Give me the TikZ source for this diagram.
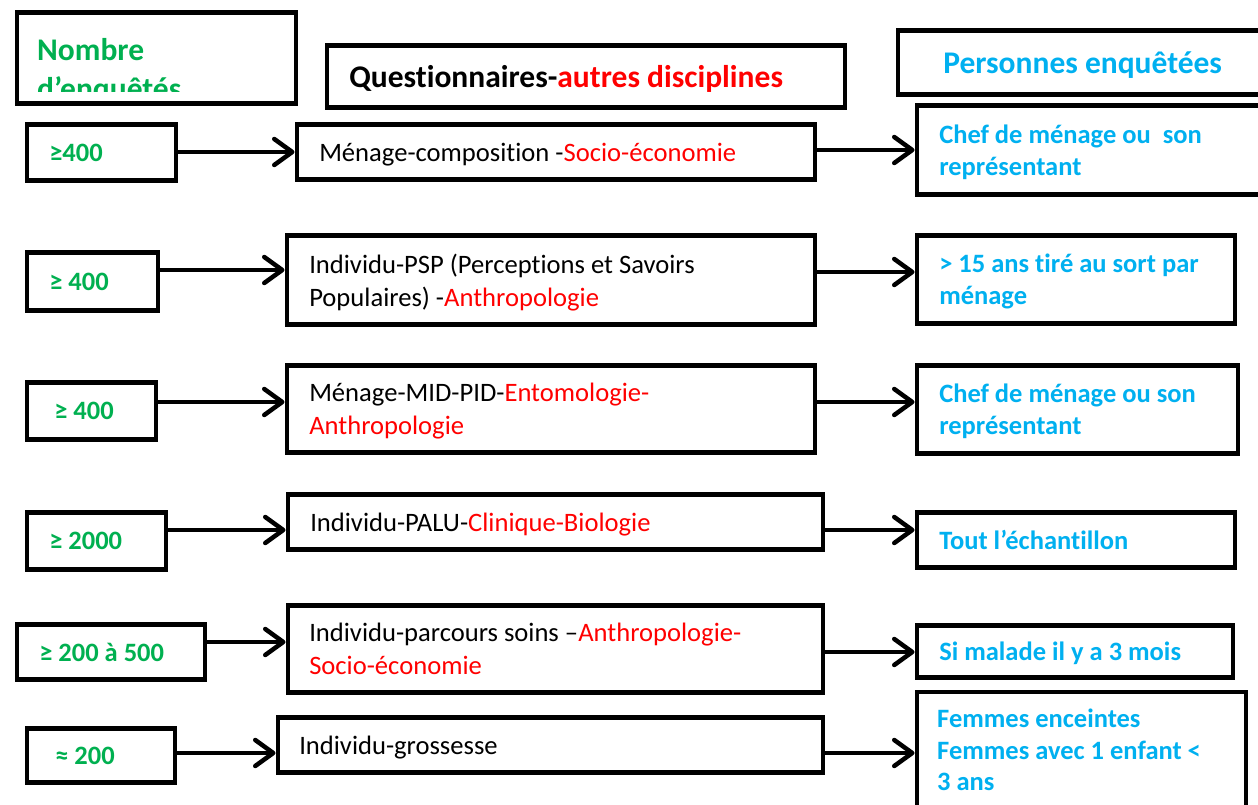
\documentclass[tikz,border=0pt]{standalone}
\usepackage{fontspec}
\setmainfont{Carlito}[Ligatures=NoCommon]
\usetikzlibrary{arrows.meta}
\definecolor{ogreen}{HTML}{00B050}
\definecolor{ocyan}{HTML}{00B0F0}
\definecolor{ored}{HTML}{FF0000}
\newcommand{\rd}[1]{\textcolor{ored}{#1}}
\begin{document}
\begin{tikzpicture}[x=1pt,y=-1pt,
  box/.style={draw, line width=4.5pt, rectangle, anchor=west, align=flush left, inner ysep=0pt, text depth=0pt},
  tworeg/.style={text depth=33pt},
  twobold/.style={text depth=32pt},
  reg/.style={font=\fontsize{26.6}{33}\selectfont},
  hdr/.style={font=\bfseries\fontsize{31.5}{39}\selectfont},
  boldc/.style={font=\bfseries\fontsize{26.5}{32}\selectfont, text=ocyan},
  boldg/.style={font=\bfseries\fontsize{26.5}{32}\selectfont, text=ogreen},
  arr/.style={line width=4.5pt, line cap=round, -{Straight Barb[length=18pt,width=26pt,round]}}]
\useasboundingbox (0,0) rectangle (1258,805);
\clip (0,0) rectangle (1258,805);
\fill[white] (0,0) rectangle (1258,805);

% headers
\node[box, minimum width=279pt, minimum height=91pt] (hA) at (14.5,58) {};
\begin{scope}
  \clip (20,15) rectangle (290,92);
  \node[hdr, text=ogreen, anchor=west, align=flush left, inner sep=0pt] (hAt) at (37,71) {Nombre\\d’enquêtés};
\end{scope}
\node[box, hdr, minimum width=518pt, minimum height=62pt, inner xsep=22.5pt, text width=473pt] (hB) at (324.5,76.5) {Questionnaires-\rd{autres disciplines}};
\node[box, hdr, text=ocyan, minimum width=400pt, minimum height=64pt, inner xsep=45.5pt, text width=309pt] (hC) at (895.5,62.5) {Personnes enquêtées};

% row 1
\node[box, boldg, minimum width=149pt, minimum height=56pt, inner xsep=22.5pt, text width=104pt] (L1) at (24.5,152.5) {≥400};
\node[box, reg, minimum width=518pt, minimum height=55pt, inner xsep=22.5pt, text width=473pt] (M1) at (294.5,152) {Ménage-composition -\rd{Socio-économie}};
\node[box, boldc, twobold, minimum width=370pt, minimum height=89pt, inner xsep=22.5pt, text width=325pt] (R1) at (914.5,150) {Chef de ménage ou\ \ son\\représentant};

% row 2
\node[box, boldg, minimum width=131pt, minimum height=58pt, inner xsep=22.5pt, text width=86pt] (L2) at (24.5,281.5) {≥ 400};
\node[box, reg, tworeg, minimum width=528pt, minimum height=89pt, inner xsep=22.5pt, text width=483pt] (M2) at (284.5,280) {Individu-PSP (Perceptions et Savoirs\\Populaires) -\rd{Anthropologie}};
\node[box, boldc, twobold, minimum width=318pt, minimum height=88pt, inner xsep=22.5pt, text width=273pt] (R2) at (914.5,279.5) {> 15 ans tiré au sort par\\ménage};

% row 3
\node[box, boldg, minimum width=129pt, minimum height=57pt, inner xsep=27.5pt, text width=74pt] (L3) at (24.5,411) {≥ 400};
\node[box, reg, tworeg, minimum width=528pt, minimum height=87pt, inner xsep=22.5pt, text width=483pt] (M3) at (284.5,409) {Ménage-MID-PID-\rd{Entomologie-}\\\rd{Anthropologie}};
\node[box, boldc, twobold, minimum width=321pt, minimum height=88pt, inner xsep=22.5pt, text width=276pt] (R3) at (914.5,409.5) {Chef de ménage ou son\\représentant};

% row 4
\node[box, boldg, minimum width=139pt, minimum height=57pt, inner xsep=22.5pt, text width=94pt] (L4) at (24.5,541) {≥ 2000};
\node[box, reg, minimum width=535pt, minimum height=55pt, inner xsep=22.5pt, text width=490pt] (M4) at (285.5,522) {Individu-PALU-\rd{Clinique-Biologie}};
\node[box, boldc, minimum width=318pt, minimum height=55pt, inner xsep=22.5pt, text width=273pt] (R4) at (914.5,540) {Tout l’échantillon};

% row 5
\node[box, boldg, minimum width=188pt, minimum height=55pt, inner xsep=22.5pt, text width=143pt] (L5) at (14.5,652) {≥ 200 à 500};
\node[box, reg, tworeg, minimum width=535pt, minimum height=87pt, inner xsep=21.5pt, text width=492pt] (M5) at (285.5,649) {Individu-parcours soins –\rd{Anthropologie-}\\\rd{Socio-économie}};
\node[box, boldc, minimum width=316pt, minimum height=52pt, inner xsep=22.5pt, text width=271pt] (R5) at (914.5,651.5) {Si malade il y a 3 mois};

% row 6
\node[box, boldg, minimum width=148pt, minimum height=54pt, inner xsep=28.5pt, text width=91pt] (L6) at (24.5,755.5) {≈ 200};
\node[box, reg, minimum width=545pt, minimum height=55pt, inner xsep=21.5pt, text width=502pt] (M6) at (275.5,745) {Individu-grossesse};
\node[draw, line width=4.5pt, rectangle, anchor=north west, minimum width=329pt, minimum height=160pt] (R6) at (914.5,689.5) {};
\node[boldc, anchor=west, align=flush left, inner sep=0pt, font=\bfseries\fontsize{26.5}{31.5}\selectfont] (R6t) at (937,750) {Femmes enceintes\\Femmes avec 1 enfant <\\3 ans};

% arrow levels
\coordinate (a1) at (0,152); \coordinate (b1) at (0,150);
\coordinate (a2) at (0,270); \coordinate (b2) at (0,272);
\coordinate (a3) at (0,402); \coordinate (b3) at (0,402);
\coordinate (a4) at (0,530); \coordinate (b4) at (0,530);
\coordinate (a5) at (0,642); \coordinate (b5) at (0,652);
\coordinate (a6) at (0,753); \coordinate (b6) at (0,753);

\draw[arr] (L1.east |- a1) -- (M1.west |- a1);
\draw[arr] (M1.east |- b1) -- (R1.west |- b1);
\draw[arr] (L2.east |- a2) -- (M2.west |- a2);
\draw[arr] (M2.east |- b2) -- (R2.west |- b2);
\draw[arr] (L3.east |- a3) -- (M3.west |- a3);
\draw[arr] (M3.east |- b3) -- (R3.west |- b3);
\draw[arr] (L4.east |- a4) -- (M4.west |- a4);
\draw[arr] (M4.east |- b4) -- (R4.west |- b4);
\draw[arr] (L5.east |- a5) -- (M5.west |- a5);
\draw[arr] (M5.east |- b5) -- (R5.west |- b5);
\draw[arr] (L6.east |- a6) -- (M6.west |- a6);
\draw[arr] (M6.east |- b6) -- (R6.west |- b6);
\end{tikzpicture}
\end{document}
